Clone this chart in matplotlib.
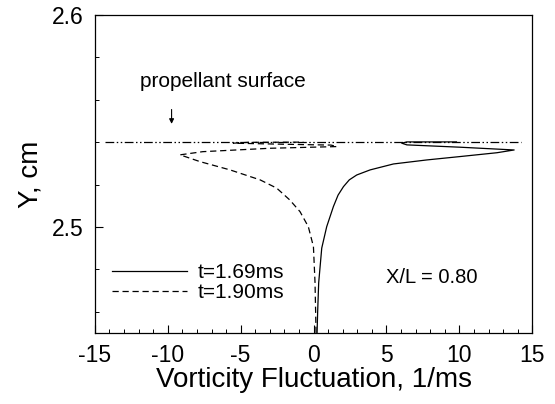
import matplotlib
matplotlib.use('Agg')
import matplotlib.pyplot as plt
from matplotlib.ticker import MultipleLocator

plt.rcParams['font.family'] = ['Liberation Sans', 'DejaVu Sans']
plt.rcParams['axes.unicode_minus'] = False

# t = 1.69 ms (solid)
y_169 = [2.450, 2.460, 2.4736, 2.4900, 2.5001, 2.5096, 2.5150, 2.5190, 2.5222, 2.5245,
         2.5269, 2.5297, 2.5316, 2.5332, 2.5350, 2.5363, 2.5376, 2.5387, 2.5395, 2.5401,
         2.5401]
x_169 = [0.24, 0.28, 0.35, 0.56, 0.90, 1.36, 1.68, 2.05, 2.45, 2.96,
         3.88, 5.48, 7.77, 10.06, 12.58, 13.76, 10.06, 6.40, 6.05, 6.40,
         9.80]

# t = 1.90 ms (dashed)
y_190 = [2.450, 2.4736, 2.4907, 2.5001, 2.5072, 2.5127, 2.5183, 2.5222, 2.5269, 2.5308,
         2.534, 2.5355, 2.5371, 2.5379, 2.5386, 2.5390, 2.5395, 2.5399, 2.5400]
x_190 = [0.17, 0.10, -0.01, -0.36, -0.93, -1.63, -2.53, -3.67, -5.73, -7.79,
         -9.16, -7.60, -3.00, 1.60, 1.20, -2.00, -5.50, -4.50, -0.70]

surface_y = 2.540
surface_x = [-14.3, 14.2]

fig = plt.figure(figsize=(5.55, 4.04), dpi=100)
ax = fig.add_axes([0.171, 0.176, 0.788, 0.787])

ax.plot(x_169, y_169, color='black', lw=0.9, label='t=1.69ms')
ax.plot(x_190, y_190, color='black', lw=0.9, linestyle=(0, (5, 3)), label='t=1.90ms')
ax.plot(surface_x, [surface_y, surface_y], color='black', lw=0.9,
        linestyle=(0, (7, 2, 1.2, 2, 1.2, 2)))

ax.annotate('', xy=(-9.74, 2.5473), xytext=(-9.74, 2.5567),
            arrowprops=dict(arrowstyle='-|>', color='black', lw=0.8,
                            mutation_scale=7))
ax.text(-6.2, 2.5684, 'propellant surface', fontsize=15, ha='center', va='center')
ax.text(8.1, 2.4759, 'X/L = 0.80', fontsize=14.5, ha='center', va='center')

ax.set_xlim(-15, 15)
ax.set_ylim(2.45, 2.60)
ax.xaxis.set_major_locator(MultipleLocator(5))
ax.xaxis.set_minor_locator(MultipleLocator(1))
ax.yaxis.set_major_locator(MultipleLocator(0.1))
ax.yaxis.set_minor_locator(MultipleLocator(0.02))
ax.tick_params(which='both', direction='in', top=False, right=False, labelsize=16.5)
ax.tick_params(which='major', length=6, width=0.8, pad=8)
ax.tick_params(which='minor', length=3, width=0.7)
for s in ax.spines.values():
    s.set_linewidth(0.9)

ax.set_xlabel('Vorticity Fluctuation, 1/ms', fontsize=20, labelpad=0)
ax.set_ylabel('Y, cm', fontsize=20, labelpad=6)

ax.legend(loc='center left', bbox_to_anchor=(0.039, 0.157), frameon=False,
          fontsize=15, handlelength=3.6, handletextpad=0.5, labelspacing=0.05,
          borderpad=0, borderaxespad=0)

fig.savefig('out.png', dpi=100)
